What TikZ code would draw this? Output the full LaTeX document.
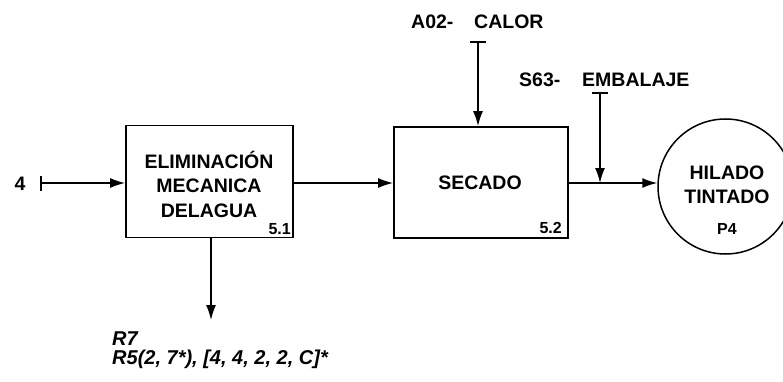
\documentclass[tikz,border=0pt]{standalone}
\usepackage{fontspec}
\setmainfont{Liberation Sans}
\usetikzlibrary{arrows.meta}
\tikzset{
  x=1pt, y=-1pt,
  procbox/.style={draw, line width=1.8pt, inner sep=0pt},
  flow/.style={line width=1.5pt, -{Latex[length=15pt,width=10pt]}},
  lbl/.style={inner sep=0pt, font=\fontsize{19.5}{19.5}\selectfont\bfseries},
  small/.style={inner sep=0pt, font=\fontsize{16}{16}\selectfont\bfseries},
  rlbl/.style={inner sep=0pt, font=\fontsize{20}{20}\selectfont\bfseries\itshape},
  tbar/.style={line width=1.5pt}
}
\begin{document}
\begin{tikzpicture}
\useasboundingbox (0,0) rectangle (783,382);
% boxes
\node[procbox, minimum width=167pt, minimum height=112pt] (b1) at (209.5,181.5) {};
\node[procbox, minimum width=174pt, minimum height=111pt] (b2) at (481,182.5) {};
\node[draw, circle, line width=1.5pt, minimum size=135pt, inner sep=0pt] (p4) at (725.5,186.5) {};
% texts
\node[lbl, align=center] (t1) at (209,184) {ELIMINACIÓN\\[5pt]MECANICA\\[5pt]DELAGUA};
\node[small, anchor=south east] (n1) at (291,235) {5.1};
\node[lbl] (t2) at (480,183) {SECADO};
\node[small, anchor=south east] (n2) at (562,234) {5.2};
\node[lbl, align=center] (t3) at (727,185) {HILADO\\[5pt]TINTADO};
\node[small] (t4) at (727,229) {P4};
% input
\node[lbl] (in4) at (20,184) {4};
\coordinate (s4) at (41,183);
\draw[tbar] (41,176) -- (41,191);
\draw[flow] (s4) -- (b1.west |- s4);
% box1 -> box2
\draw[flow] (b1.east |- 0,183) -- (b2.west |- 0,183);
% box2 -> circle
\coordinate (o2) at (b2.east |- 0,183);
\draw[flow] (o2) -- (o2 -| p4.west);
% A02 calor
\node[lbl, anchor=west] (a02) at (411,22) {A02-};
\node[lbl, anchor=west] (cal) at (474,22) {CALOR};
\coordinate (ca) at (478,42);
\draw[tbar] (470,42) -- (486,42);
\draw[flow] (ca) -- (b2.north -| ca);
% S63 embalaje
\node[lbl, anchor=west] (s63) at (519,80) {S63-};
\node[lbl, anchor=west] (emb) at (582,80) {EMBALAJE};
\coordinate (em) at (600,93);
\coordinate (emj) at (600,183);
\draw[tbar] (592,93) -- (608,93);
\draw[flow] (em) -- (emj);
% output from box 1
\coordinate (r7a) at (211,320);
\draw[flow] (b1.south -| r7a) -- (r7a);
\node[rlbl, anchor=west] (r7) at (112,339) {R7};
\node[rlbl, anchor=west] (r5) at (112,359) {R5(2, 7*), [4, 4, 2, 2, C]*};
\end{tikzpicture}
\end{document}
